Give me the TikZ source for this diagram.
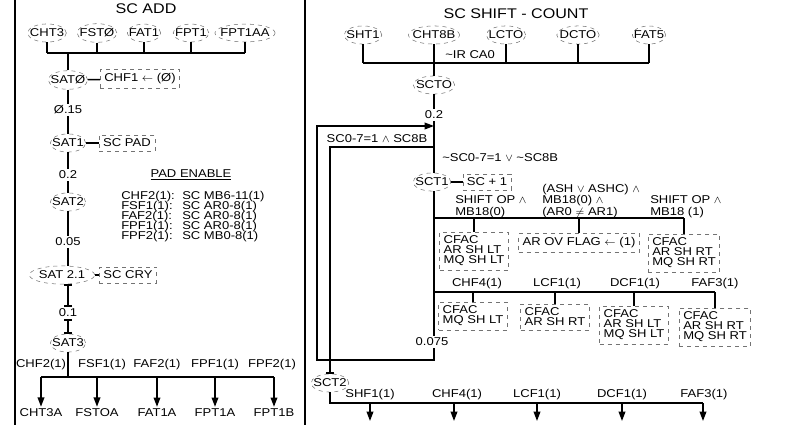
\documentclass[tikz,border=0pt]{standalone}
\usepackage{fontspec}
\setmainfont[FakeStretch=1.15]{Liberation Sans}
\usetikzlibrary{shapes.geometric,arrows.meta}
\begin{document}
\begin{tikzpicture}[x=0.75pt,y=-0.75pt,
  every node/.style={font={\fontsize{8.5}{7.5}\selectfont\lineskiplimit=-10pt}, inner sep=1.5pt},
  st/.style={draw=black!55, dashed, ellipse, inner xsep=-2.5pt, inner ysep=1.8pt, line width=0.4pt},
  bx/.style={draw=black!55, dashed, rectangle, line width=0.4pt, inner sep=3pt},
  ml/.style={align=left},
  cnd/.style={align=left, font={\fontsize{8.5}{8.7}\selectfont\lineskiplimit=-10pt}},
  ln/.style={line width=1.1pt},
  arr/.style={ln, -{Triangle[length=7pt,width=5pt]}},
  tick/.style={ln, {Bar[width=6pt]}-{Bar[width=6pt]}},
  endtick/.style={ln, -{Bar[width=6pt]}},
  ttl/.style={font=\fontsize{10.5}{12}\selectfont}
]
\useasboundingbox (0,0) rectangle (804,425);
% frame lines
\draw[line width=0.8pt] (15,0) -- (15,425);
\draw[line width=0.8pt] (305,0) -- (305,425);

% ================= SC ADD =================
\node[ttl] (tadd) at (146,9) {SC ADD};
\node[st] (cht3) at (47,33) {CHT3};
\node[st] (fst0) at (97,33) {FSTØ};
\node[st] (fat1) at (144,33) {FAT1};
\node[st] (fpt1) at (191,33) {FPT1};
\node[st] (fpt1aa) at (245,33) {FPT1AA};
\coordinate (busA) at (0,53);
\draw[ln] (cht3 |- busA) -- (fpt1aa |- busA);
\foreach \n in {cht3,fst0,fat1,fpt1,fpt1aa} \draw[ln] (\n) -- (\n |- busA);

\node[st] (sat0) at (68,80) {SATØ};
\node[bx] (chf1) at (140,79) {CHF1 $\leftarrow$ (Ø)};
\node (d015) at (68,110) {Ø.15};
\node[st] (sat1) at (68,143) {SAT1};
\node[bx] (scpad) at (127,143) {SC PAD};
\node (d02) at (68,175) {0.2};
\node[st] (sat2) at (68,202) {SAT2};
\node (d005) at (68,242) {0.05};
\node[st, inner xsep=0pt] (sat21) at (62,275) {SAT 2.1};
\node[bx] (sccry) at (128,275) {SC CRY};
\node (d01) at (68,313) {0.1};
\node[st] (sat3) at (68,343) {SAT3};

\draw[ln] (sat0 |- busA) -- (sat0);
\draw[ln] (sat0) -- (chf1);
\draw[ln] (sat0) -- (d015);
\draw[ln] (d015) -- (sat1);
\draw[ln] (sat1) -- (scpad);
\draw[ln] (sat1) -- (d02);
\draw[ln] (d02) -- (sat2);
\draw[ln] (sat2) -- (d005);
\draw[ln] (d005) -- (d005 |- sat21.north);
\draw[ln] (sat21) -- (sccry);
\draw[tick] (d01 |- sat21.south) -- (d01);
\draw[tick] (d01) -- (sat3);

% PAD ENABLE legend
\node (padh) at (191,175) {\underline{PAD ENABLE}};
\node[ml, anchor=north west] (padl) at (119,189) {CHF2(1):\\FSF1(1):\\FAF2(1):\\FPF1(1):\\FPF2(1):};
\node[ml, anchor=north west] (padr) at (180,189) {SC MB6-11(1)\\SC AR0-8(1)\\SC AR0-8(1)\\SC AR0-8(1)\\SC MB0-8(1)};

% bottom fan-out
\coordinate (busB) at (0,377);
\node (cht3a) at (41,413) {CHT3A};
\node (fst0a) at (97,413) {FSTOA};
\node (fat1a) at (157,413) {FAT1A};
\node (fpt1a) at (215,413) {FPT1A};
\node (fpt1b) at (274,413) {FPT1B};
\draw[ln] (sat3) -- (sat3 |- busB);
\draw[ln] (cht3a |- busB) -- (fpt1b |- busB);
\foreach \n in {cht3a,fst0a,fat1a,fpt1a,fpt1b} \draw[arr] (\n |- busB) -- (\n.north);
\node (q1) at (41,365) {CHF2(1)};
\node (q2) at (102,365) {FSF1(1)};
\node (q3) at (157,365) {FAF2(1)};
\node (q4) at (215,365) {FPF1(1)};
\node (q5) at (272,365) {FPF2(1)};

% ================= SC SHIFT - COUNT =================
\node[ttl] (tsc) at (516,14) {SC SHIFT - COUNT};
\node[st] (sht1) at (363,35) {SHT1};
\node[st] (cht8b) at (434,35) {CHT8B};
\node[st] (lct0) at (506,35) {LCTO};
\node[st] (dct0) at (578,35) {DCTO};
\node[st] (fat5) at (649,35) {FAT5};
\coordinate (busC) at (0,63);
\draw[ln] (sht1 |- busC) -- (fat5 |- busC);
\foreach \n in {sht1,lct0,dct0,fat5} \draw[ln] (\n) -- (\n |- busC);
\node[anchor=west] (ircao) at (443,55) {\textasciitilde IR CA0};

\node[st] (sct0) at (434,85) {SCTO};
\node (d02r) at (434,115) {0.2};
\node[st] (sct1) at (432,182) {SCT1};
\node[bx] (scp1) at (487,182) {SC + 1};
\node (d075) at (432,342) {0.075};
\node[st] (sct2) at (330,383) {SCT2};
\draw[ln] (cht8b) -- (sct0);
\draw[ln] (sct0) -- (d02r);
\draw[ln] (d02r) -- (d02r |- sct1.north);
\draw[ln] (sct1) -- (scp1);
\draw[ln] (d02r |- sct1.south) -- (d02r |- d075.north);

% loop and exit
\coordinate (lpin) at (434,126);
\coordinate (lpbot) at (434,360);
\coordinate (lpl) at (317,360);
\coordinate (lptl) at (317,126);
\draw[arr] (d02r |- d075.south) -- (lpbot) -- (lpl) -- (lptl) -- (lpin);
\coordinate (ibr) at (434,147);
\coordinate (ibl) at (330,147);
\draw[endtick] (ibr) -- (ibl) -- (ibl |- sct2.north);
\node (cond1) at (377,139) {SC0-7=1 $\wedge$ SC8B};
\node[anchor=west] (cond2) at (440,158) {\textasciitilde SC0-7=1 $\vee$ \textasciitilde SC8B};

% branch 1
\coordinate (bus1) at (434,218);
\node[cnd, anchor=south west] (lb1) at (453,220) {SHIFT OP $\wedge$\\MB18(0)};
\node[cnd, anchor=south west] (lb2) at (540,220) {(ASH $\vee$ ASHC) $\wedge$\\MB18(0) $\wedge$\\(AR0 $\neq$ AR1)};
\node[cnd, anchor=south west] (lb3) at (648,220) {SHIFT OP $\wedge$\\MB18 (1)};
\node[bx, ml] (b1) at (474,251) {CFAC\\AR SH LT\\MQ SH LT};
\node[bx] (b2) at (579,243) {AR OV FLAG $\leftarrow$ (1)};
\node[bx, ml] (b3) at (684,253) {CFAC\\AR SH RT\\MQ SH RT};
\draw[ln] (bus1) -- (b3 |- bus1);
\foreach \n in {b1,b2,b3} \draw[ln] (\n |- bus1) -- (\n.north);

% branch 2
\coordinate (bus2) at (434,292);
\node (l21) at (477,284) {CHF4(1)};
\node (l22) at (557,284) {LCF1(1)};
\node (l23) at (635,284) {DCF1(1)};
\node (l24) at (715,284) {FAF3(1)};
\node[bx, ml] (c1) at (473,316) {CFAC\\MQ SH LT};
\node[bx, ml] (c2) at (555,317) {CFAC\\AR SH RT};
\node[bx, ml] (c3) at (634,325) {CFAC\\AR SH LT\\MQ SH LT};
\node[bx, ml] (c4) at (715,327) {CFAC\\AR SH RT\\MQ SH RT};
\draw[ln] (bus2) -- (c4 |- bus2);
\foreach \n in {c1,c2,c3,c4} \draw[ln] (\n |- bus2) -- (\n.north);

% SCT2 fan-out
\coordinate (bot0) at (330,403);
\coordinate (e1) at (370,421);
\coordinate (e2) at (454,421);
\coordinate (e3) at (537,421);
\coordinate (e4) at (622,421);
\coordinate (e5) at (703,421);
\draw[ln] (sct2) -- (bot0) -- (e5 |- bot0);
\foreach \n in {e1,e2,e3,e4,e5} \draw[arr] (\n |- bot0) -- (\n);
\node (m1) at (370,395) {SHF1(1)};
\node (m2) at (457,395) {CHF4(1)};
\node (m3) at (537,395) {LCF1(1)};
\node (m4) at (622,395) {DCF1(1)};
\node (m5) at (704,395) {FAF3(1)};
\end{tikzpicture}
\end{document}
